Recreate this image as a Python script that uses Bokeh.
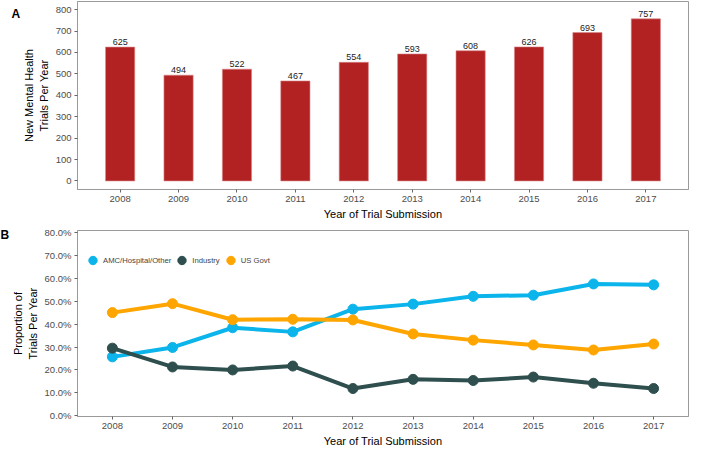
from bokeh.plotting import figure
from bokeh.layouts import column
from bokeh.models import ColumnDataSource, Legend, LegendItem, NumeralTickFormatter, FixedTicker, Range1d, Label
from bokeh.embed import file_html
from bokeh.resources import INLINE

years = [2008, 2009, 2010, 2011, 2012, 2013, 2014, 2015, 2016, 2017]
trials = [625, 494, 522, 467, 554, 593, 608, 626, 693, 757]
amc = [0.257, 0.298, 0.384, 0.366, 0.465, 0.487, 0.521, 0.526, 0.575, 0.571]
industry = [0.295, 0.213, 0.200, 0.217, 0.119, 0.159, 0.154, 0.169, 0.142, 0.119]
usgovt = [0.450, 0.489, 0.419, 0.421, 0.418, 0.357, 0.330, 0.309, 0.287, 0.313]
series_names = ["AMC/Hospital/Other", "Industry", "US Govt"]
series_colors = ["#0BB4EA", "#2F4F4F", "#FFA500"]

FONT = "Liberation Sans"
GRAY = "#9a9a9a"
W = 690


def style(p):
    p.outline_line_color = GRAY
    p.outline_line_width = 1
    p.xgrid.visible = False
    p.ygrid.visible = False
    for ax in (p.xaxis[0], p.yaxis[0]):
        ax.axis_line_color = GRAY
        ax.major_tick_line_color = "#666666"
        ax.major_tick_out = 3
        ax.major_tick_in = 0
        ax.minor_tick_line_color = None
        ax.major_label_text_font = FONT
        ax.major_label_text_font_size = "9.5px"
        ax.major_label_text_color = "#4D4D4D"
        ax.major_label_standoff = 3
        ax.axis_label_text_font = FONT
        ax.axis_label_text_font_size = "11px"
        ax.axis_label_text_font_style = "normal"
        ax.axis_label_text_color = "#000000"
        ax.axis_label_standoff = 3
    p.xaxis[0].ticker = FixedTicker(ticks=years)
    p.background_fill_color = "white"
    p.border_fill_color = "white"


def panel_tag(p, letter, y):
    lab = Label(x=0, y=y, x_units="screen", y_units="screen", text=letter,
                text_font=FONT, text_font_size="12px", text_font_style="bold",
                text_color="#000000", text_baseline="middle", text_align="left")
    p.add_layout(lab, "left")


# ---------- Panel A ----------
src_a = ColumnDataSource(dict(x=years, top=trials, lab=[str(v) for v in trials]))
p1 = figure(width=W, height=222, output_backend="svg", toolbar_location=None,
            x_range=Range1d(2007.27, 2017.73), y_range=Range1d(-40, 838),
            min_border_left=62, min_border_right=2, min_border_top=1, min_border_bottom=32)
style(p1)
panel_tag(p1, "A", 176)
p1.vbar(x="x", top="top", bottom=0, width=0.5, source=src_a,
        fill_color="#B22222", line_color="#D9868A", line_width=0.6)
p1.text(x="x", y="top", text="lab", source=src_a, text_align="center",
        text_baseline="bottom", y_offset=-2, text_font_size="9px",
        text_color="#222222", text_font={"value": FONT})
p1.yaxis[0].ticker = FixedTicker(ticks=list(range(0, 801, 100)))
p1.xaxis.axis_label = "Year of Trial Submission"
p1.yaxis.axis_label = "New Mental Health\nTrials Per Year"

# ---------- Panel B ----------
p2 = figure(width=W, height=227, output_backend="svg", toolbar_location=None,
            x_range=Range1d(2007.42, 2017.58), y_range=Range1d(-0.003, 0.808),
            min_border_left=74, min_border_right=2, min_border_top=8, min_border_bottom=31)
style(p2)
panel_tag(p2, "B", 182)
items = []
for name, vals, col in zip(series_names, [amc, industry, usgovt], series_colors):
    src = ColumnDataSource(dict(x=years, y=vals))
    p2.line(x="x", y="y", source=src, line_color=col, line_width=4)
    r = p2.scatter(x="x", y="y", source=src, size=10, fill_color=col, line_color=col)
    items.append(LegendItem(label=name, renderers=[r]))
leg = Legend(items=items, orientation="horizontal", location=(5, 145),
             border_line_color=None, background_fill_alpha=0,
             label_text_font=FONT, label_text_font_size="7.7px",
             glyph_width=21, glyph_height=22, label_standoff=0, spacing=0,
             padding=0, margin=0, label_text_baseline="middle")
p2.add_layout(leg, "center")
p2.yaxis[0].ticker = FixedTicker(ticks=[i / 10 for i in range(0, 9)])
p2.yaxis[0].formatter = NumeralTickFormatter(format="0.0%")
p2.xaxis.axis_label = "Year of Trial Submission"
p2.yaxis.axis_label = "Proportion of\nTrials Per Year"

layout = column(p1, p2, spacing=0)
open("out.html", "w").write(file_html(layout, INLINE))
